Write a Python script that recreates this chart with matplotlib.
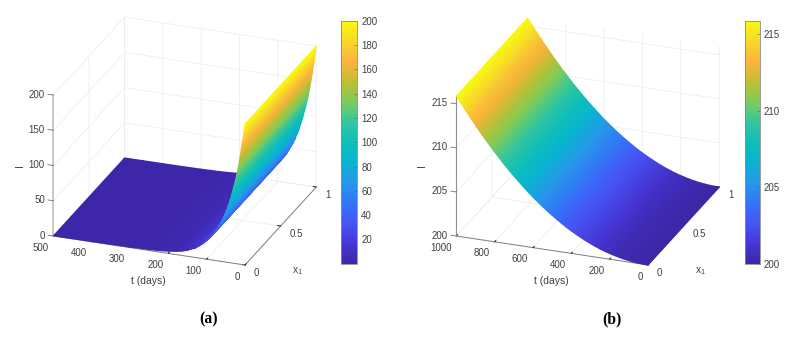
import numpy as np
import matplotlib
matplotlib.use('Agg')
import matplotlib.pyplot as plt
from matplotlib.colors import LinearSegmentedColormap, Normalize
from matplotlib.cm import ScalarMappable
from mpl_toolkits.mplot3d import proj3d

plt.rcParams['font.family'] = ['Liberation Sans', 'DejaVu Sans']
plt.rcParams['mathtext.fontset'] = 'custom'
plt.rcParams['mathtext.rm'] = 'Liberation Sans'

# values
x1_grid = [0, 1]
t_a = [0, 2.5, 5, 7.5, 10, 12.5, 15, 17.5, 20, 22.5, 25, 27.5, 30, 35, 40, 45, 50, 55, 60, 65, 70, 75, 80, 90,
       100, 110, 120, 130, 140, 150, 165, 180, 200, 225, 250, 300, 350, 400, 450, 500]
i_a = [200, 190, 180, 171, 162, 154, 146, 138, 130, 124, 118, 112, 107, 96, 87, 78, 71, 64, 58, 53, 48, 43, 39, 32,
       26, 21, 17, 13, 11, 8.5, 6, 4.5, 3, 1.9, 1.3, 0.7, 0.45, 0.3, 0.25, 0.2]
t_b = [0, 25, 50, 75, 100, 125, 150, 175, 200, 225, 250, 275, 300, 325, 350, 375, 400, 425, 450, 475, 500,
       525, 550, 575, 600, 625, 650, 675, 700, 725, 750, 775, 800, 825, 850, 875, 900, 925, 950, 975, 1000]
i_b = [200.0, 200.01, 200.04, 200.09, 200.16, 200.25, 200.36, 200.49, 200.64, 200.8, 200.99, 201.2, 201.43, 201.68,
       201.95, 202.24, 202.54, 202.87, 203.22, 203.59, 203.98, 204.38, 204.81, 205.26, 205.72, 206.21, 206.72,
       207.24, 207.79, 208.36, 208.94, 209.55, 210.18, 210.82, 211.49, 212.17, 212.88, 213.6, 214.35, 215.11, 215.9]

ticks_t_a = [0, 100, 200, 300, 400, 500]
ticks_t_b = [0, 200, 400, 600, 800, 1000]
ticks_x = [0, 0.5, 1]
labels_x = ['0', '0.5', '1']
ticks_z_a = [0, 50, 100, 150, 200]
ticks_z_b = [200, 205, 210, 215]
ticks_cb_a = [20, 40, 60, 80, 100, 120, 140, 160, 180, 200]
ticks_cb_b = [200, 205, 210, 215]

parula = LinearSegmentedColormap.from_list('parula', [
    (0.00, (0.2422, 0.1504, 0.6603)),
    (0.08, (0.2706, 0.2147, 0.8364)),
    (0.16, (0.2810, 0.3228, 0.9579)),
    (0.25, (0.1986, 0.4629, 0.9700)),
    (0.33, (0.1540, 0.5902, 0.9218)),
    (0.42, (0.0297, 0.7082, 0.8163)),
    (0.50, (0.0590, 0.7500, 0.7200)),
    (0.58, (0.1938, 0.7758, 0.6251)),
    (0.67, (0.5044, 0.7993, 0.3480)),
    (0.75, (0.7500, 0.7500, 0.1900)),
    (0.83, (0.9900, 0.7000, 0.2400)),
    (0.92, (0.9700, 0.8500, 0.1600)),
    (1.00, (0.9763, 0.9831, 0.0538)),
], N=256)

W, H = 791, 337
TEXT = '#404040'
TICK_SIZE = 7
fig = plt.figure(figsize=(W / 100, H / 100), dpi=100)

# pixel-coordinate layer on top, the surfaces go here with gouraud shading (like shading interp)
overlay = fig.add_axes([0, 0, 1, 1], zorder=5)
overlay.set_xlim(0, W)
overlay.set_ylim(0, H)
overlay.axis('off')


def pix(ax, x, y, z):
    X, Y, _ = proj3d.proj_transform(x, y, z, ax.get_proj())
    return ax.transData.transform((X, Y))


def label_at(ax, pos, offset, s, ha):
    p = pix(ax, *pos)
    fig.text((p[0] + offset[0]) / W, (p[1] - offset[1]) / H, s, fontsize=TICK_SIZE, color=TEXT, ha=ha, va='center')


def panel(t, vals, tlim, zlim, tticks, zticks, origin, zline):
    side = 420
    ax = fig.add_axes([0, 0, side / W, side / H], projection='3d', proj_type='ortho')
    ax.set_facecolor('none')
    norm = Normalize(min(vals), max(vals))

    ax.set_xlim(0, 1, view_margin=0)
    ax.set_ylim(tlim[0], tlim[1], view_margin=0)
    ax.set_zlim(zlim[0], zlim[1], view_margin=0)
    ax.set_xticks(ticks_x)
    ax.set_xticklabels([''] * len(ticks_x))
    ax.set_yticks(tticks)
    ax.set_yticklabels([''] * len(tticks))
    ax.set_zticks(zticks)
    ax.set_zticklabels([''] * len(zticks))
    ax.view_init(elev=24, azim=200.4)

    for axis in (ax.xaxis, ax.yaxis, ax.zaxis):
        axis.set_pane_color((1, 1, 1, 0))
        axis.pane.set_edgecolor('#ececec')
        axis.pane.set_linewidth(0.6)
        axis._axinfo['grid'].update(color='#eeeeee', linewidth=0.6)
        axis.line.set_color('#808080')
        axis.line.set_linewidth(0.7)
        axis._axinfo['tick'].update(inward_factor=0.0, outward_factor=0.2, color='#707070')
        axis._axinfo['tick']['linewidth'] = {True: 0.6, False: 0.4}
    # z ticks point along t in the original, so they are drawn by hand
    ax.zaxis._axinfo['tick'].update(outward_factor=0.0)
    ax.zaxis.line.set_color(zline[0])
    ax.zaxis.line.set_linewidth(zline[1])
    for z in zticks:
        ax.plot([0, 0], [tlim[1], tlim[1] * 1.028], [z, z], color='#707070', lw=0.6)

    # fit the box to the pixel size and place of the original
    ax.set_box_aspect((204, 204, 154), zoom=1)
    ax.apply_aspect()
    p0 = pix(ax, 0, tlim[0], zlim[0])
    p1 = pix(ax, 0, tlim[0], zlim[1])
    ax.set_box_aspect((204, 204, 154), zoom=141 / abs(p1[1] - p0[1]))
    p0 = pix(ax, 0, tlim[0], zlim[0])
    dx, dy = origin[0] - p0[0], (H - origin[1]) - p0[1]
    ax.set_position([dx / W, dy / H, side / W, side / H])

    # surface: project the table through the 3d axes, far end first so near strips cover far ones
    tt = np.array(t, dtype=float)[::-1]
    vv = np.array(vals, dtype=float)[::-1]
    px = np.zeros((len(tt), 2))
    py = np.zeros((len(tt), 2))
    for i in range(len(tt)):
        for j, x in enumerate(x1_grid):
            px[i, j], py[i, j] = pix(ax, x, tt[i], vv[i])
    overlay.pcolormesh(px, py, np.column_stack([vv, vv]), shading='gouraud', cmap=parula, norm=norm)

    for v in tticks:
        label_at(ax, (0, v, zlim[0]), (-5, 11.5), str(v), 'right')
    for v, s in zip(ticks_x, labels_x):
        label_at(ax, (v, tlim[0], zlim[0]), (9, 7.5), s, 'left')
    for v in zticks:
        label_at(ax, (0, tlim[1], v), (-8.5, -0.5), str(v), 'right')
    return ax, norm


def bar(norm, rect, ticks):
    cax = fig.add_axes([rect[0] / W, 1 - rect[3] / H, (rect[2] - rect[0]) / W, (rect[3] - rect[1]) / H])
    cb = fig.colorbar(ScalarMappable(norm=norm, cmap=parula), cax=cax)
    cb.set_ticks(ticks)
    cb.ax.tick_params(labelsize=TICK_SIZE, labelcolor=TEXT, length=2, width=0.4, direction='in', color='#606060', pad=3)
    cb.outline.set_edgecolor('#8a8a8a')
    cb.outline.set_linewidth(0.6)


ax_a, norm_a = panel(t_a, i_a, (0, 500), (0, 200), ticks_t_a, ticks_z_a, (245, 265), ('#c8c8c8', 1.4))
ax_b, norm_b = panel(t_b, i_b, (0, 1000), (200, 216), ticks_t_b, ticks_z_b, (648, 265), ('#909090', 0.8))
bar(norm_a, (341, 20.7, 357, 263.5), ticks_cb_a)
bar(norm_b, (744.5, 20.7, 759.5, 263.5), ticks_cb_b)

# axis titles and panel captions
for px, py, s, rot in [(148, 281, 't (days)', 0), (298, 271, r'x$_{\mathrm{1}}$', 0), (20, 166, 'I', 90),
                       (551, 281, 't (days)', 0), (701, 271, r'x$_{\mathrm{1}}$', 0), (422, 166, 'I', 90)]:
    fig.text(px / W, 1 - py / H, s, fontsize=7.5, color=TEXT, rotation=rot, ha='center', va='center')
fig.text(209 / W, 1 - 319 / H, '(a)', fontsize=11.3, family='Liberation Serif', weight='bold', ha='center', va='center')
fig.text(612 / W, 1 - 319 / H, '(b)', fontsize=11.3, family='Liberation Serif', weight='bold', ha='center', va='center')

fig.savefig('out.png', dpi=100)
